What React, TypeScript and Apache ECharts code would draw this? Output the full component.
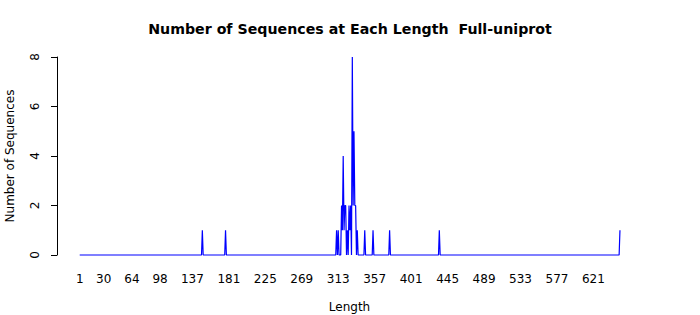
import React, { useEffect, useRef } from "react";
import * as echarts from "echarts";

const titleText = "Number of Sequences at Each Length  Full-uniprot";
const xAxisName = "Length";
const yAxisName = "Number of Sequences";

// Sequence lengths that occur, and how many sequences have each length
const observedLengths = [
  149, 177, 311, 313, 317, 318, 319, 320, 321, 322, 324, 326, 327, 328, 330,
  331, 332, 333, 334, 336, 345, 355, 375, 435, 653,
];
const observedCounts = [
  1, 1, 1, 1, 2, 1, 4, 1, 2, 2, 1, 2, 1, 2, 8,
  2, 5, 2, 2, 1, 1, 1, 1, 1, 1,
];
const minLength = 1;
const maxLength = 653;

const xTickLabels = [1, 30, 64, 98, 137, 181, 225, 269, 313, 357, 401, 445, 489, 533, 577, 621];
const yTicks = [0, 2, 4, 6, 8];

const FONT = "DejaVu Sans";

export default function App() {
  const ref = useRef<HTMLDivElement>(null);

  useEffect(() => {
    if (!ref.current) return;
    const chart = echarts.init(ref.current, undefined, { renderer: "svg" });

    const countByLength = new Map<number, number>();
    observedLengths.forEach((l, i) => countByLength.set(l, observedCounts[i]));
    const seriesData: [number, number][] = [];
    for (let l = minLength; l <= maxLength; l++) {
      seriesData.push([l, countByLength.get(l) ?? 0]);
    }

    chart.setOption({
      animation: false,
      backgroundColor: "#ffffff",
      title: {
        text: titleText,
        left: "center",
        top: 17,
        textStyle: { fontFamily: FONT, fontSize: 14.2, fontWeight: "bold", color: "#000" },
      },
      grid: {
        left: 57,
        right: 58,
        top: 57,
        bottom: 60,
        containLabel: false,
        outerBoundsMode: "none",
      },
      xAxis: {
        type: "value",
        min: -26.4,
        max: 679.6,
        name: xAxisName,
        nameLocation: "middle",
        nameGap: 46,
        nameTextStyle: { fontFamily: FONT, fontSize: 12, color: "#000" },
        axisLine: { show: false, onZero: false },
        axisTick: { show: false },
        splitLine: { show: false },
        axisLabel: {
          customValues: xTickLabels,
          margin: 18,
          fontFamily: FONT,
          fontSize: 12,
          color: "#000",
        },
      },
      yAxis: {
        type: "value",
        min: 0,
        max: 8,
        interval: 2,
        name: yAxisName,
        nameLocation: "middle",
        nameGap: 41,
        nameTextStyle: { fontFamily: FONT, fontSize: 12, color: "#000" },
        axisLine: { show: true, onZero: false, lineStyle: { color: "#000", width: 1 } },
        axisTick: { show: true, length: 6, lineStyle: { color: "#000" } },
        splitLine: { show: false },
        axisLabel: {
          customValues: yTicks,
          rotate: 90,
          margin: 16,
          fontFamily: FONT,
          fontSize: 12,
          color: "#000",
        },
      },
      series: [
        {
          type: "line",
          data: seriesData,
          symbol: "none",
          clip: false,
          lineStyle: { color: "#0000ff", width: 1.2 },
        },
      ],
    });

    return () => chart.dispose();
  }, []);

  return (
    <div
      ref={ref}
      style={{ position: "fixed", left: 0, top: 0, width: 700, height: 315 }}
    />
  );
}
